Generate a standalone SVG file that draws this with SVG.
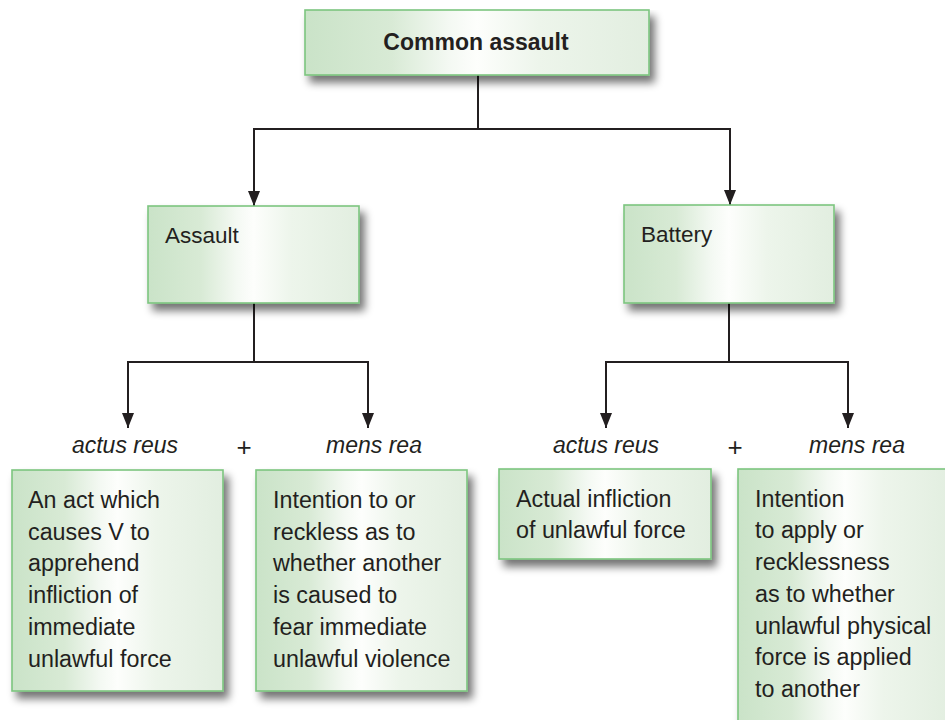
<svg xmlns="http://www.w3.org/2000/svg" width="945" height="720" viewBox="0 0 945 720">
  <defs>
    <linearGradient id="boxFill" x1="0" y1="0" x2="1" y2="0">
      <stop offset="0" stop-color="#cae3c8"/>
      <stop offset="0.25" stop-color="#d8ead5"/>
      <stop offset="0.42" stop-color="#f4f9f3"/>
      <stop offset="0.5" stop-color="#fdfefc"/>
      <stop offset="0.68" stop-color="#edf5eb"/>
      <stop offset="1" stop-color="#e2eee0"/>
    </linearGradient>
    <filter id="shadow" x="-10%" y="-10%" width="130%" height="140%">
      <feGaussianBlur in="SourceAlpha" stdDeviation="4"/>
      <feOffset dx="5" dy="7" result="blur"/>
      <feComponentTransfer><feFuncA type="linear" slope="0.55"/></feComponentTransfer>
      <feMerge><feMergeNode/><feMergeNode in="SourceGraphic"/></feMerge>
    </filter>
    <!-- filled arrowhead, drawn along +x so orient="auto" points it down the line -->
    <marker id="arrow" viewBox="0 0 15 12" refX="15" refY="6" markerWidth="15" markerHeight="12" markerUnits="userSpaceOnUse" orient="auto">
      <path d="M0,0 L15,6 L0,12 Z" fill="#231f20"/>
    </marker>
  </defs>
  <style>
    .box { fill: url(#boxFill); stroke: #7cc57f; stroke-width: 1.6; filter: url(#shadow); }
    .txt { font-family: "Liberation Sans", Arial, sans-serif; font-size: 23.3px; fill: #231f20; }
    .head { font-family: "Liberation Sans", Arial, sans-serif; font-size: 22.5px; fill: #231f20; }
    .title { font-family: "Liberation Sans", Arial, sans-serif; font-size: 23px; font-weight: bold; fill: #231f20; }
    .lbl { font-family: "Liberation Sans", Arial, sans-serif; font-size: 23px; font-style: italic; fill: #231f20; }
    .plus { font-family: "Liberation Sans", Arial, sans-serif; font-size: 26px; fill: #231f20; }
    .wire { fill: none; stroke: #231f20; stroke-width: 2; }
    .tip { fill: none; stroke: #231f20; stroke-width: 2; marker-end: url(#arrow); }
  </style>

  <rect width="945" height="720" fill="#ffffff"/>

  <!-- connectors -->
  <g id="connectors">
    <path class="wire" d="M478,75 V129 M253,129 H731"/>
    <path class="tip" d="M254,129 V206"/>
    <path class="tip" d="M730,129 V205"/>
    <path class="wire" d="M254,303 V362 M127,362 H369"/>
    <path class="tip" d="M128,362 V428"/>
    <path class="tip" d="M368,362 V428"/>
    <path class="wire" d="M729,303 V362 M605,362 H849"/>
    <path class="tip" d="M606,362 V428"/>
    <path class="tip" d="M848,362 V428"/>
  </g>

  <g id="common-assault">
    <rect class="box" x="305" y="10" width="344" height="65"/>
    <text class="title" x="476" y="50" text-anchor="middle">Common assault</text>
  </g>

  <g id="assault">
    <rect class="box" x="148" y="206" width="211" height="97"/>
    <text class="head" x="165" y="243">Assault</text>
  </g>

  <g id="battery">
    <rect class="box" x="624" y="205" width="210" height="98"/>
    <text class="head" x="641" y="242">Battery</text>
  </g>

  <!-- element labels -->
  <g id="labels">
    <text class="lbl" x="125" y="453" text-anchor="middle">actus reus</text>
    <text class="plus" x="244" y="456" text-anchor="middle">+</text>
    <text class="lbl" x="374" y="453" text-anchor="middle">mens rea</text>
    <text class="lbl" x="606" y="453" text-anchor="middle">actus reus</text>
    <text class="plus" x="735" y="456" text-anchor="middle">+</text>
    <text class="lbl" x="857" y="453" text-anchor="middle">mens rea</text>
  </g>

  <g id="assault-actus-reus">
    <rect class="box" x="12" y="470" width="211" height="221"/>
    <text class="txt" x="28" y="508">An act which</text>
    <text class="txt" x="28" y="540">causes V to</text>
    <text class="txt" x="28" y="571">apprehend</text>
    <text class="txt" x="28" y="603">infliction of</text>
    <text class="txt" x="28" y="635">immediate</text>
    <text class="txt" x="28" y="667">unlawful force</text>
  </g>

  <g id="assault-mens-rea">
    <rect class="box" x="256" y="470" width="211" height="221"/>
    <text class="txt" x="273" y="508">Intention to or</text>
    <text class="txt" x="273" y="540">reckless as to</text>
    <text class="txt" x="273" y="571">whether another</text>
    <text class="txt" x="273" y="603">is caused to</text>
    <text class="txt" x="273" y="635">fear immediate</text>
    <text class="txt" x="273" y="667">unlawful violence</text>
  </g>

  <g id="battery-actus-reus">
    <rect class="box" x="499" y="469" width="212" height="90"/>
    <text class="txt" x="516" y="507">Actual infliction</text>
    <text class="txt" x="516" y="538">of unlawful force</text>
  </g>

  <g id="battery-mens-rea">
    <rect class="box" x="738" y="469" width="214" height="270"/>
    <text class="txt" x="755" y="507">Intention</text>
    <text class="txt" x="755" y="538">to apply or</text>
    <text class="txt" x="755" y="570">recklessness</text>
    <text class="txt" x="755" y="602">as to whether</text>
    <text class="txt" x="755" y="634">unlawful physical</text>
    <text class="txt" x="755" y="665">force is applied</text>
    <text class="txt" x="755" y="697">to another</text>
  </g>
</svg>
